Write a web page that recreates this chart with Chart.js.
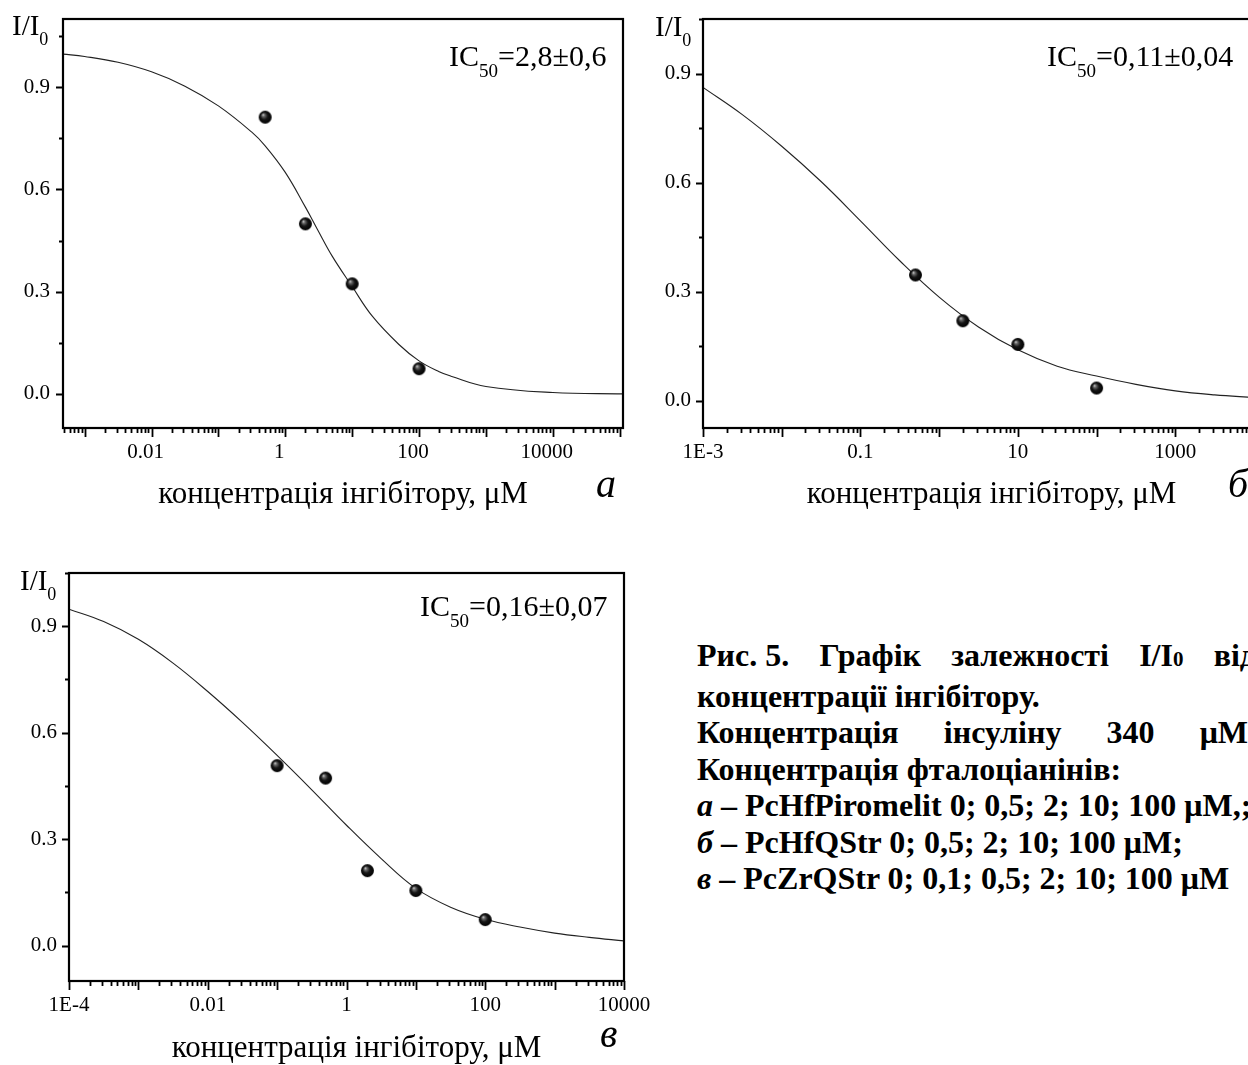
<!DOCTYPE html>
<html lang="uk">
<head>
<meta charset="utf-8">
<title>I/I0</title>
<script src="https://cdn.jsdelivr.net/npm/chart.js@4.4.1/dist/chart.umd.min.js"></script>
<style>
  html, body { margin: 0; padding: 0; background: #fff; }
  body { width: 1248px; height: 1065px; position: relative; overflow: hidden; }
  canvas { position: absolute; }
  #chartA { left: 0; top: 0; }
  #chartB { left: 640px; top: 0; }
  #chartC { left: 0; top: 555px; }
  .caption { position: absolute; left: 697px; top: 637px; width: 559px; color: #000;
             font: bold 32px "Liberation Serif", "Times New Roman", serif; line-height: 36.5px; }
  .caption div { white-space: nowrap; }
  .caption .just { white-space: normal; text-align: justify; text-align-last: justify; }
  .caption .s0 { font-size: 21px; }
  .caption .nb { display: inline-block; }
</style>
</head>
<body>
<canvas id="chartA" width="640" height="520"></canvas>
<canvas id="chartB" width="660" height="520"></canvas>
<canvas id="chartC" width="680" height="510"></canvas>

<div class="caption">
  <div class="just"><span class="nb">Рис.&nbsp;5.</span> Графік залежності I/I<span class="s0">0</span> від</div>
  <div>концентрації інгібітору.</div>
  <div class="just">Концентрація інсуліну 340 μM,</div>
  <div>Концентрація фталоціанінів:</div>
  <div><i>а</i> – PcHfPiromelit 0; 0,5; 2; 10; 100 μM,;</div>
  <div><i>б</i> – PcHfQStr 0; 0,5; 2; 10; 100 μM;</div>
  <div><i>в</i> – PcZrQStr 0; 0,1; 0,5; 2; 10; 100 μM</div>
</div>

<script>
// --- measured points (concentration, µM -> I/I0)
const concA = [0.5, 2, 10, 100];
const ratioA = [0.812, 0.499, 0.323, 0.074];
const concB = [0.5, 2, 10, 100];
const ratioB = [0.346, 0.22, 0.155, 0.035];
const concC = [0.1, 0.5, 2, 10, 100];
const ratioC = [0.507, 0.472, 0.211, 0.155, 0.073];

// --- fitted dose-response curves
const fitConcA = [4.75e-4, 1e-3, 3.16e-3, 0.01, 0.0316, 0.1, 0.316, 0.5, 1, 2, 3, 5, 10, 20, 50, 100, 200, 300, 1000, 1e4, 1.12e5];
const fitRatioA = [0.997, 0.99, 0.973, 0.945, 0.903, 0.845, 0.768, 0.728, 0.65, 0.548, 0.484, 0.405, 0.315, 0.228, 0.145, 0.097, 0.065, 0.052, 0.022, 0.004, 0.0];
const fitConcB = [1e-3, 3.16e-3, 0.01, 0.0316, 0.1, 0.316, 1, 3.16, 10, 31.6, 100, 316, 1000, 3160, 1e4];
const fitRatioB = [0.862, 0.787, 0.70, 0.603, 0.495, 0.385, 0.285, 0.203, 0.14, 0.095, 0.068, 0.045, 0.027, 0.016, 0.009];
const fitConcC = [1e-4, 3.16e-4, 1e-3, 3.16e-3, 0.01, 0.0316, 0.1, 0.316, 1, 3.16, 10, 31.6, 100, 316, 1000, 3160, 1e4];
const fitRatioC = [0.948, 0.913, 0.863, 0.796, 0.716, 0.629, 0.536, 0.439, 0.339, 0.245, 0.161, 0.108, 0.074, 0.052, 0.035, 0.023, 0.013];

// --- tick labels
const yMajor = [0, 0.3, 0.6, 0.9];
const yMinor = [0.15, 0.45, 0.75, 1.05];
const xLabelValsA = [0.01, 1, 100, 10000];
const xLabelsA = ['0.01', '1', '100', '10000'];
const xLabelValsB = [1e-3, 0.1, 10, 1000];
const xLabelsB = ['1E-3', '0.1', '10', '1000'];
const xLabelValsC = [1e-4, 0.01, 1, 100, 10000];
const xLabelsC = ['1E-4', '0.01', '1', '100', '10000'];

const SERIF = '"Liberation Serif", "Times New Roman", serif';

// black ball marker with a small highlight
function makeBall(r) {
  const c = document.createElement('canvas');
  const s = Math.ceil(r * 2 + 2);
  c.width = c.height = s;
  const g = c.getContext('2d');
  const grad = g.createRadialGradient(s / 2 - r * 0.35, s / 2 - r * 0.4, 0, s / 2, s / 2, r);
  grad.addColorStop(0, '#e0e0e0');
  grad.addColorStop(0.22, '#6a6a6a');
  grad.addColorStop(0.55, '#151515');
  grad.addColorStop(1, '#000');
  g.fillStyle = grad;
  g.beginPath();
  g.arc(s / 2, s / 2, r, 0, Math.PI * 2);
  g.fill();
  return c;
}
const ball = makeBall(6.5);

// every 1..9 x 10^n inside the axis range
function logTicks(min, max) {
  const out = [];
  for (let e = Math.floor(Math.log10(min)); e <= Math.ceil(Math.log10(max)); e++) {
    for (let k = 1; k <= 9; k++) {
      const v = k * Math.pow(10, e);
      if (v >= min * 0.999 && v <= max * 1.001) out.push(v);
    }
  }
  return out;
}
const isDecade = v => Math.abs(Math.log10(v) - Math.round(Math.log10(v))) < 1e-6;
const near = (a, b) => Math.abs(a - b) < 1e-6;

// text runs with subscripts: [[text, isSub], ...]
function drawRuns(ctx, x, y, runs, size, subSize, drop) {
  let cx = x;
  runs.forEach(([txt, sub]) => {
    ctx.font = `${sub ? subSize : size}px ${SERIF}`;
    ctx.fillText(txt, cx, sub ? y + drop : y);
    cx += ctx.measureText(txt).width;
  });
}

// frame, outward ticks and the extra labels
const decor = {
  id: 'decor',
  afterDraw(chart, args, o) {
    const { ctx, chartArea: a } = chart;
    const sx = chart.scales.x, sy = chart.scales.y;
    ctx.save();
    ctx.strokeStyle = '#000';
    ctx.fillStyle = '#000';

    ctx.lineWidth = 1.8;
    ctx.beginPath();
    sx.ticks.forEach(t => {
      const px = Math.round(sx.getPixelForValue(t.value)) + 0.5;
      const len = isDecade(t.value) ? 9 : 5;
      ctx.moveTo(px, a.bottom);
      ctx.lineTo(px, a.bottom + len);
    });
    sy.ticks.forEach(t => {
      const py = Math.round(sy.getPixelForValue(t.value)) + 0.5;
      const len = yMajor.some(v => near(v, t.value)) ? 7 : 4;
      ctx.moveTo(a.left, py);
      ctx.lineTo(a.left - len, py);
    });
    ctx.stroke();

    ctx.lineWidth = 2.2;
    ctx.strokeRect(a.left, a.top, a.right - a.left, a.bottom - a.top);

    ctx.textBaseline = 'alphabetic';
    ctx.textAlign = 'left';
    drawRuns(ctx, o.yTitle[0], o.yTitle[1], [['I/I', false], ['0', true]], 29, 18, 10);
    drawRuns(ctx, o.ic[0], o.ic[1], o.icRuns, 30, 19, 11);

    ctx.textAlign = 'center';
    ctx.font = `31px ${SERIF}`;
    ctx.fillText('концентрація інгібітору, μM', (a.left + a.right) / 2 + o.titleDx, o.titleY);

    ctx.textAlign = 'left';
    ctx.font = `italic 40px ${SERIF}`;
    ctx.fillText(o.letter, o.letterPos[0], o.letterPos[1]);
    ctx.restore();
  }
};

function buildChart(cfg) {
  return new Chart(document.getElementById(cfg.id), {
    type: 'scatter',
    data: {
      datasets: [
        {
          data: cfg.conc.map((x, i) => ({ x, y: cfg.ratio[i] })),
          pointStyle: ball, pointRadius: 6.5, pointHoverRadius: 6.5
        },
        {
          data: cfg.fitConc.map((x, i) => ({ x, y: cfg.fitRatio[i] })),
          showLine: true, pointRadius: 0, borderColor: '#222', borderWidth: 1.1,
          tension: 0.4, fill: false
        }
      ]
    },
    options: {
      responsive: false,
      animation: false,
      devicePixelRatio: 1,
      events: [],
      layout: { padding: { top: cfg.padTop, right: cfg.padRight, left: 0, bottom: 0 } },
      plugins: {
        legend: { display: false },
        tooltip: { enabled: false },
        decor: cfg.decor
      },
      scales: {
        x: {
          type: 'logarithmic',
          min: cfg.xMin, max: cfg.xMax,
          grid: { display: false, drawTicks: false },
          border: { display: false },
          ticks: {
            autoSkip: false, maxRotation: 0, minRotation: 0, padding: 12,
            labelOffset: cfg.xLabelShift,
            color: '#000', font: { family: SERIF, size: 21 },
            callback: v => {
              const i = cfg.xLabelVals.findIndex(l => Math.abs(Math.log10(l) - Math.log10(v)) < 1e-6);
              return i >= 0 ? cfg.xLabels[i] : '';
            }
          },
          afterBuildTicks: s => { s.ticks = logTicks(cfg.xMin, cfg.xMax).map(v => ({ value: v })); },
          afterFit: s => { s.height = cfg.xAxisH; s.paddingLeft = 0; s.paddingRight = 0; }
        },
        y: {
          min: cfg.yMin, max: cfg.yMax,
          grid: { display: false, drawTicks: false },
          border: { display: false },
          ticks: {
            autoSkip: false, padding: cfg.yPad,
            color: '#000', font: { family: SERIF, size: 21 },
            callback: v => (yMajor.some(m => near(m, v)) ? v.toFixed(1) : '')
          },
          afterBuildTicks: s => { s.ticks = yMajor.concat(yMinor).filter(v => v <= cfg.yMax).map(v => ({ value: v })); },
          afterFit: s => { s.width = cfg.yAxisW; s.paddingTop = 0; s.paddingBottom = 0; }
        }
      }
    },
    plugins: [decor]
  });
}

buildChart({
  id: 'chartA', conc: concA, ratio: ratioA, fitConc: fitConcA, fitRatio: fitRatioA,
  xMin: 4.75e-4, xMax: 1.12e5, yMin: -0.1, yMax: 1.1,
  xLabelVals: xLabelValsA, xLabels: xLabelsA, xLabelShift: -6,
  padTop: 19, padRight: 17, xAxisH: 92, yAxisW: 63, yPad: 13,
  decor: {
    yTitle: [12, 35], ic: [449, 66], icRuns: [['IC', false], ['50', true], ['=2,8±0,6', false]],
    titleDx: 0, titleY: 503, letter: 'а', letterPos: [596, 497]
  }
});

buildChart({
  id: 'chartB', conc: concB, ratio: ratioB, fitConc: fitConcB, fitRatio: fitRatioB,
  xMin: 1e-3, xMax: 1e4, yMin: -0.075, yMax: 1.05,
  xLabelVals: xLabelValsB, xLabels: xLabelsB, xLabelShift: 0,
  padTop: 19, padRight: 46, xAxisH: 92, yAxisW: 63, yPad: 12,
  decor: {
    yTitle: [15, 36], ic: [407, 66], icRuns: [['IC', false], ['50', true], ['=0,11±0,04', false]],
    titleDx: 13, titleY: 503, letter: 'б', letterPos: [588, 497]
  }
});

buildChart({
  id: 'chartC', conc: concC, ratio: ratioC, fitConc: fitConcC, fitRatio: fitRatioC,
  xMin: 1e-4, xMax: 1e4, yMin: -0.1, yMax: 1.05,
  xLabelVals: xLabelValsC, xLabels: xLabelsC, xLabelShift: 0,
  padTop: 18, padRight: 56, xAxisH: 84, yAxisW: 69, yPad: 12,
  decor: {
    yTitle: [20, 35], ic: [420, 61], icRuns: [['IC', false], ['50', true], ['=0,16±0,07', false]],
    titleDx: 10, titleY: 502, letter: 'в', letterPos: [600, 492]
  }
});
</script>
</body>
</html>
